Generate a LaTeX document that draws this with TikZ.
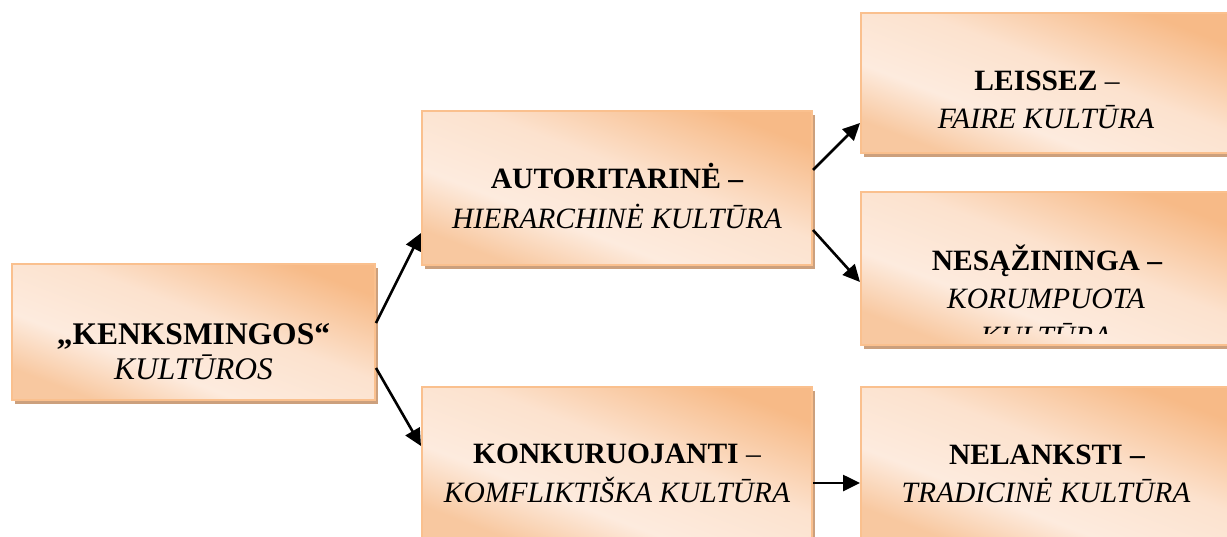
\documentclass[tikz,border=0pt]{standalone}
\usepackage{fontspec}
\setmainfont{Liberation Serif}
\usetikzlibrary{arrows.meta,shadows}

\definecolor{pkEdge}{RGB}{250,192,142}
\definecolor{pkDeep}{RGB}{247,186,135}
\definecolor{pkMid}{RGB}{248,200,160}
\definecolor{pkLight}{RGB}{253,235,222}
\definecolor{pkSoft}{RGB}{252,226,206}
\definecolor{pkShadow}{RGB}{204,160,125}

% peach fill: deeper at two opposite corners, pale band across the middle
\pgfdeclareverticalshading{peach}{100bp}{color(0bp)=(pkMid); color(25bp)=(pkMid);
  color(38bp)=(pkLight); color(55bp)=(pkSoft); color(75bp)=(pkDeep); color(100bp)=(pkDeep)}

\begin{document}
\begin{tikzpicture}[x=1pt,y=-1pt,
  box/.style={rectangle, draw=pkEdge, line width=2pt, shade, shading=peach,
    shading angle=-21, inner sep=0pt,
    drop shadow={shadow xshift=3pt, shadow yshift=-4pt, fill=pkShadow, opacity=1}},
  wide/.style={minimum width=390pt, minimum height=154pt},
  side/.style={minimum width=370pt},
  hd/.style={font=\fontsize{29.5}{35}\selectfont\bfseries, anchor=base, inner sep=0pt},
  sub/.style={font=\fontsize{29.5}{35}\selectfont\itshape, anchor=base, inner sep=0pt},
  mix/.style={font=\fontsize{29.5}{35}\selectfont, anchor=base, inner sep=0pt},
  arr/.style={-{Triangle[length=17pt,width=16pt]}, line width=2.6pt}]

\useasboundingbox (0,0) rectangle (1227,536);

% boxes
\node[box, minimum width=363pt, minimum height=136pt] (A) at (193.5,332) {};
\node[box, wide] (B) at (617,188) {};
\node[box, wide] (E) at (617,464) {};
\node[box, side, minimum height=140pt] (C) at (1046,83) {};
\node[box, side, minimum height=153pt] (D) at (1046,268.5) {};
\node[box, side, minimum height=154pt] (F) at (1046,464) {};

% texts
\node[hd, font=\fontsize{31.5}{35}\selectfont\bfseries] (a1) at (193.5,344) {„KENKSMINGOS“};
\node[sub, font=\fontsize{31.5}{35}\selectfont\itshape] (a2) at (193.5,379) {KULTŪROS};

\node[hd] (b1) at (617,188) {AUTORITARINĖ –};
\node[sub] (b2) at (617,228) {HIERARCHINĖ KULTŪRA};

\node[mix] (c1) at (1047,90) {\textbf{LEISSEZ} –};
\node[sub] (c2) at (1046,128) {FAIRE KULTŪRA};

\begin{scope}
  \clip (D.north west) rectangle ([yshift=13pt]D.south east);
  \node[hd] (d1) at (1047,270) {NESĄŽININGA –};
  \node[sub] (d2) at (1046,308) {KORUMPUOTA};
  \node[sub] (d3) at (1046,346) {KULTŪRA};
\end{scope}

\node[mix] (e1) at (617,463) {\textbf{KONKURUOJANTI} –};
\node[sub] (e2) at (617,502) {KOMFLIKTIŠKA KULTŪRA};

\node[hd] (f1) at (1047,464) {NELANKSTI –};
\node[sub] (f2) at (1046,502) {TRADICINĖ KULTŪRA};

% connectors
\draw[arr] ([yshift=9pt]A.east) -- ([yshift=-45pt]B.west);
\draw[arr] ([yshift=-36pt]A.east) -- ([yshift=18pt]E.west);
\draw[arr] ([yshift=18pt]B.east) -- ([yshift=-40pt]C.west);
\draw[arr] ([yshift=-42pt]B.east) -- ([yshift=-13.5pt]D.west);
\draw[arr] ([yshift=-19pt]E.east) -- ([yshift=-19pt]F.west);
\end{tikzpicture}
\end{document}
